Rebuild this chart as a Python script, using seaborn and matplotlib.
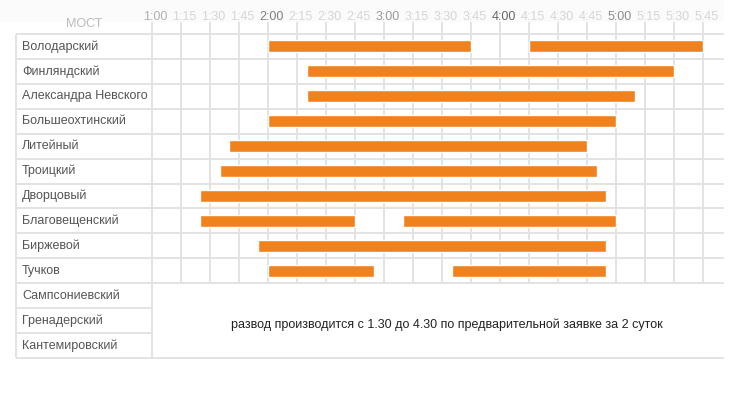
import numpy as np
import matplotlib.pyplot as plt
import seaborn as sns
from matplotlib.patches import Rectangle

# данные: разводка мостов (время начала и конца)
bridges = ['Володарский', 'Финляндский', 'Александра Невского', 'Большеохтинский',
           'Литейный', 'Троицкий', 'Дворцовый', 'Благовещенский', 'Биржевой', 'Тучков']
first_start = ['2:00', '2:20', '2:20', '2:00', '1:40', '1:35', '1:25', '1:25', '1:55', '2:00']
first_end = ['3:45', '5:30', '5:10', '5:00', '4:45', '4:50', '4:55', '2:45', '4:55', '2:55']
second_start = ['4:15', None, None, None, None, None, None, '3:10', None, '3:35']
second_end = ['5:45', None, None, None, None, None, None, '5:00', None, '4:55']

on_request = ['Сампсониевский', 'Гренадерский', 'Кантемировский']
note = 'развод производится с 1.30 до 4.30 по предварительной заявке за 2 суток'

tick_labels = ['1:00', '1:15', '1:30', '1:45', '2:00', '2:15', '2:30', '2:45', '3:00', '3:15',
               '3:30', '3:45', '4:00', '4:15', '4:30', '4:45', '5:00', '5:15', '5:30', '5:45']


def to_hours(t):
    h, m = t.split(':')
    return int(h) + int(m) / 60


sns.set_theme(style='white')
plt.rcParams['font.family'] = ['Liberation Sans', 'DejaVu Sans']

fig = plt.figure(figsize=(7.52, 4.18), dpi=100)
ax = fig.add_axes([16 / 752, 1 - 358 / 418, 708 / 752, 324 / 418])

px_h = 116.0  # пикселей на час
x0 = 1 - 136 / px_h
x1 = 1 + 572 / px_h
ax.set_xlim(x0, x1)
ax.set_ylim(13, 0)
ax.axis('off')

grid_c = '#e3e3e3'
n_rows = len(bridges) + len(on_request)

# полоса заголовка
ax.add_patch(Rectangle((1 - 152 / px_h, -1.37), 724 / px_h, 0.89,
                       facecolor='#fbfbfb', edgecolor='none', clip_on=False, zorder=0))

# вертикальная сетка
ticks = [to_hours(t) for t in tick_labels]
ax.vlines(ticks, -0.48, len(bridges), color=grid_c, lw=1.4, clip_on=False, zorder=1)
ax.vlines(1, len(bridges), n_rows, color=grid_c, lw=1.4, zorder=1)
ax.vlines(x0, 0, n_rows, color=grid_c, lw=1.4, clip_on=False, zorder=1)

# горизонтальные линии
ax.hlines(range(len(bridges) + 1), x0, x1, color=grid_c, lw=1.4, clip_on=False, zorder=1)
ax.hlines(range(len(bridges) + 1, n_rows), x0, 1, color=grid_c, lw=1.4, zorder=1)
ax.hlines(n_rows, x0, x1, color=grid_c, lw=1.4, clip_on=False, zorder=1)

# подписи времени
tick_colors = {'1:00': '#b0b0b0', '2:00': '#808080', '3:00': '#999999',
               '4:00': '#666666', '5:00': '#8c8c8c'}
for t, lab in zip(ticks, tick_labels):
    ax.text(t + 0.03, -0.7, lab, ha='center', va='center', fontsize=9,
            color=tick_colors.get(lab, '#d6d6d6'), clip_on=False)

ax.text(1 - 68 / px_h, -0.42, 'МОСТ', ha='center', va='center', fontsize=9,
        color='#bbbbbb', clip_on=False)

# названия мостов
for i, name in enumerate(bridges + on_request):
    ax.text(x0 + 6 / px_h, i + 0.5, name, ha='left', va='center', fontsize=9, color='#555555')

# полосы разводки
rows = np.arange(len(bridges)) + 0.5
starts = [to_hours(s) for s in first_start]
ends = [to_hours(e) for e in first_end]
ax.barh(rows, np.array(ends) - np.array(starts), left=starts, height=0.48,
        color='#f0821e', zorder=3)
rows2 = [r for r, s in zip(rows, second_start) if s]
s2 = [to_hours(s) for s in second_start if s]
e2 = [to_hours(e) for e in second_end if e]
ax.barh(rows2, np.array(e2) - np.array(s2), left=s2, height=0.48,
        color='#f0821e', zorder=3)

ax.text(1 + 295 / px_h, len(bridges) + 1.68, note, ha='center', va='center',
        fontsize=9, color='#222222')

fig.savefig('out.png', dpi=100)
